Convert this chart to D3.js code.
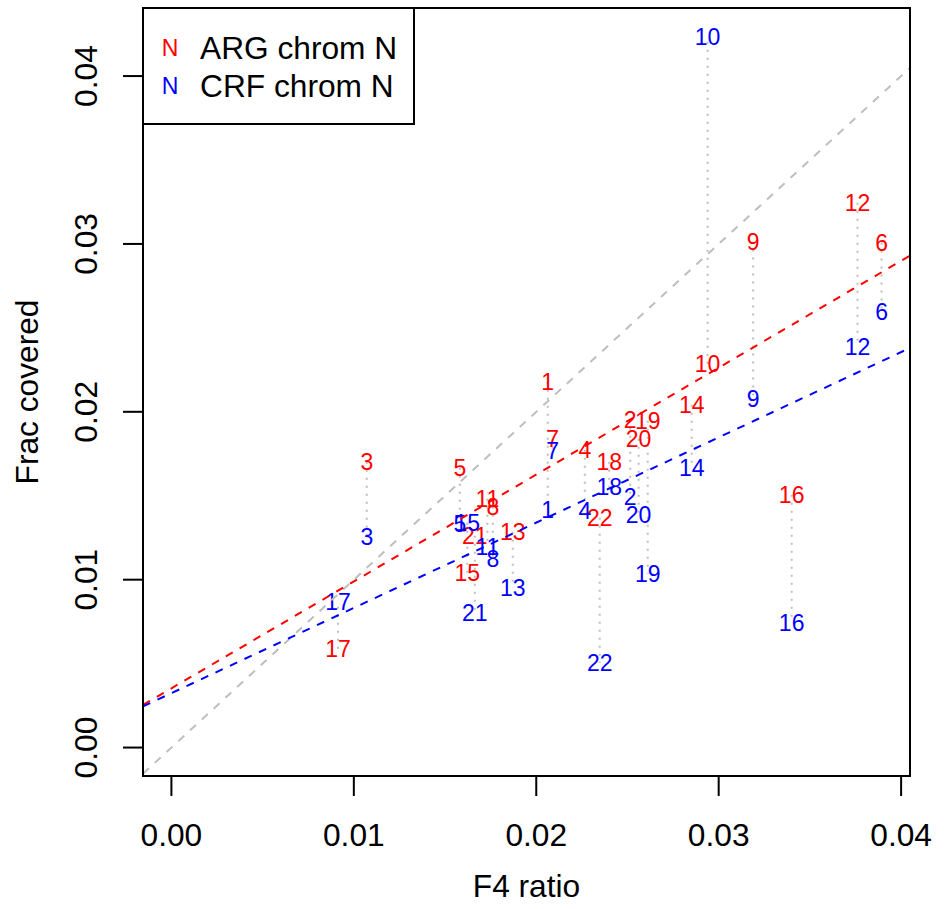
<!DOCTYPE html>
<html>
<head>
<meta charset="utf-8">
<script src="https://cdn.jsdelivr.net/npm/d3@7"></script>
<style>
  html, body { margin: 0; padding: 0; background: #fff; }
  svg { display: block; }
  text { font-family: "Liberation Sans", Arial, Helvetica, sans-serif; }
</style>
</head>
<body>
<svg id="chart" width="948" height="909"></svg>
<script>
// ---- data ----
const chroms  = [1,2,3,4,5,6,7,8,9,10,11,12,13,14,15,16,17,18,19,20,21,22];
const f4Ratio = [0.02063,0.02515,0.01071,0.02266,0.01581,0.03893,0.02090,0.01762,0.03189,0.02939,0.01732,
                 0.03761,0.01871,0.02852,0.01622,0.03400,0.00913,0.02400,0.02611,0.02561,0.01663,0.02348];
const argFrac = [0.02179,0.01953,0.01703,0.01774,0.01667,0.03008,0.01840,0.01434,0.03014,0.02287,0.01482,
                 0.03246,0.01285,0.02042,0.01041,0.01506,0.00588,0.01703,0.01947,0.01840,0.01261,0.01369];
const crfFrac = [0.01416,0.01494,0.01255,0.01410,0.01333,0.02597,0.01768,0.01124,0.02078,0.04236,0.01196,
                 0.02388,0.00951,0.01667,0.01339,0.00743,0.00868,0.01554,0.01035,0.01387,0.00802,0.00504];
// fitted lines: [intercept, slope]
const argFit = [0.00353, 0.6366];
const crfFit = [0.00324, 0.5079];
const idLine = [0, 1];
const xTicks = [0.00, 0.01, 0.02, 0.03, 0.04];
const yTicks = [0.00, 0.01, 0.02, 0.03, 0.04];
const legendLabels = ["ARG chrom N", "CRF chrom N"];
const legendSymbols = ["N", "N"];

// ---- layout ----
const svg = d3.select("#chart");
const L = 143, R = 910, T = 8, B = 776;
const xlim = [0, d3.max(f4Ratio)];
const ylim = [0, d3.max(crfFrac.concat(argFrac))];
const ext = (lim) => { const r = lim[1] - lim[0]; return [lim[0] - 0.04 * r, lim[1] + 0.04 * r]; };
const x = d3.scaleLinear().domain(ext(xlim)).range([L, R]);
const y = d3.scaleLinear().domain(ext(ylim)).range([B, T]);

const RED = "#FF0000", BLUE = "#0000FF", GRAY = "#BEBEBE";
const baseFont = 31.7, labFont = 23;

svg.append("defs").append("clipPath").attr("id", "plotclip")
  .append("rect").attr("x", L).attr("y", T).attr("width", R - L).attr("height", B - T);

const plot = svg.append("g").attr("clip-path", "url(#plotclip)");

// dotted connectors
plot.selectAll("line.conn").data(chroms).enter().append("line")
  .attr("class", "conn")
  .attr("x1", (d, i) => x(f4Ratio[i])).attr("x2", (d, i) => x(f4Ratio[i]))
  .attr("y1", (d, i) => y(argFrac[i])).attr("y2", (d, i) => y(crfFrac[i]))
  .attr("stroke", GRAY).attr("stroke-width", 2).attr("stroke-dasharray", "2,6");

// labels
const dy = 0.358 * labFont;
plot.selectAll("text.arg").data(chroms).enter().append("text")
  .attr("class", "arg")
  .attr("x", (d, i) => x(f4Ratio[i])).attr("y", (d, i) => y(argFrac[i]) + dy)
  .attr("text-anchor", "middle").attr("font-size", labFont).attr("fill", RED)
  .text(d => d);
plot.selectAll("text.crf").data(chroms).enter().append("text")
  .attr("class", "crf")
  .attr("x", (d, i) => x(f4Ratio[i])).attr("y", (d, i) => y(crfFrac[i]) + dy)
  .attr("text-anchor", "middle").attr("font-size", labFont).attr("fill", BLUE)
  .text(d => d);

// ablines
const [x0, x1] = x.domain();
function abline(fit, color) {
  plot.append("line")
    .attr("x1", x(x0)).attr("y1", y(fit[0] + fit[1] * x0))
    .attr("x2", x(x1)).attr("y2", y(fit[0] + fit[1] * x1))
    .attr("stroke", color).attr("stroke-width", 2).attr("stroke-dasharray", "8,8");
}
abline(idLine, GRAY);
abline(argFit, RED);
abline(crfFit, BLUE);

// box
svg.append("rect").attr("x", L).attr("y", T).attr("width", R - L).attr("height", B - T)
  .attr("fill", "none").attr("stroke", "#000").attr("stroke-width", 2);

// x axis
const xAxis = svg.append("g");
xAxis.append("line").attr("x1", x(xTicks[0])).attr("x2", x(xTicks[xTicks.length - 1]))
  .attr("y1", B).attr("y2", B).attr("stroke", "#000").attr("stroke-width", 2);
xAxis.selectAll("line.tick").data(xTicks).enter().append("line")
  .attr("x1", d => x(d)).attr("x2", d => x(d)).attr("y1", B).attr("y2", B + 20)
  .attr("stroke", "#000").attr("stroke-width", 2);
xAxis.selectAll("text").data(xTicks).enter().append("text")
  .attr("x", d => x(d)).attr("y", 846).attr("text-anchor", "middle")
  .attr("font-size", baseFont).text(d => d3.format(".2f")(d));

// y axis
const yAxis = svg.append("g");
yAxis.append("line").attr("x1", L).attr("x2", L)
  .attr("y1", y(yTicks[0])).attr("y2", y(yTicks[yTicks.length - 1]))
  .attr("stroke", "#000").attr("stroke-width", 2);
yAxis.selectAll("line.tick").data(yTicks).enter().append("line")
  .attr("x1", L - 20).attr("x2", L).attr("y1", d => y(d)).attr("y2", d => y(d))
  .attr("stroke", "#000").attr("stroke-width", 2);
yAxis.selectAll("text").data(yTicks).enter().append("text")
  .attr("transform", d => `translate(97,${y(d)}) rotate(-90)`)
  .attr("text-anchor", "middle").attr("font-size", baseFont)
  .text(d => d3.format(".2f")(d));

// titles
svg.append("text").attr("x", (L + R) / 2).attr("y", 897).attr("text-anchor", "middle")
  .attr("font-size", baseFont).text("F4 ratio");
svg.append("text").attr("transform", `translate(37.5,${(T + B) / 2}) rotate(-90)`)
  .attr("text-anchor", "middle").attr("font-size", baseFont).text("Frac covered");

// legend
const leg = svg.append("g");
leg.append("rect").attr("x", L).attr("y", T).attr("width", 414 - L).attr("height", 124 - T)
  .attr("fill", "#fff").attr("stroke", "#000").attr("stroke-width", 2);
const legColors = [RED, BLUE];
const legCenters = [48, 86];
legendLabels.forEach((lab, i) => {
  leg.append("text").attr("x", 170).attr("y", legCenters[i] + dy).attr("text-anchor", "middle")
    .attr("font-size", labFont).attr("fill", legColors[i]).text(legendSymbols[i]);
  leg.append("text").attr("x", 200).attr("y", legCenters[i] + 0.358 * baseFont)
    .attr("font-size", baseFont).attr("fill", "#000").text(lab);
});
</script>
</body>
</html>
